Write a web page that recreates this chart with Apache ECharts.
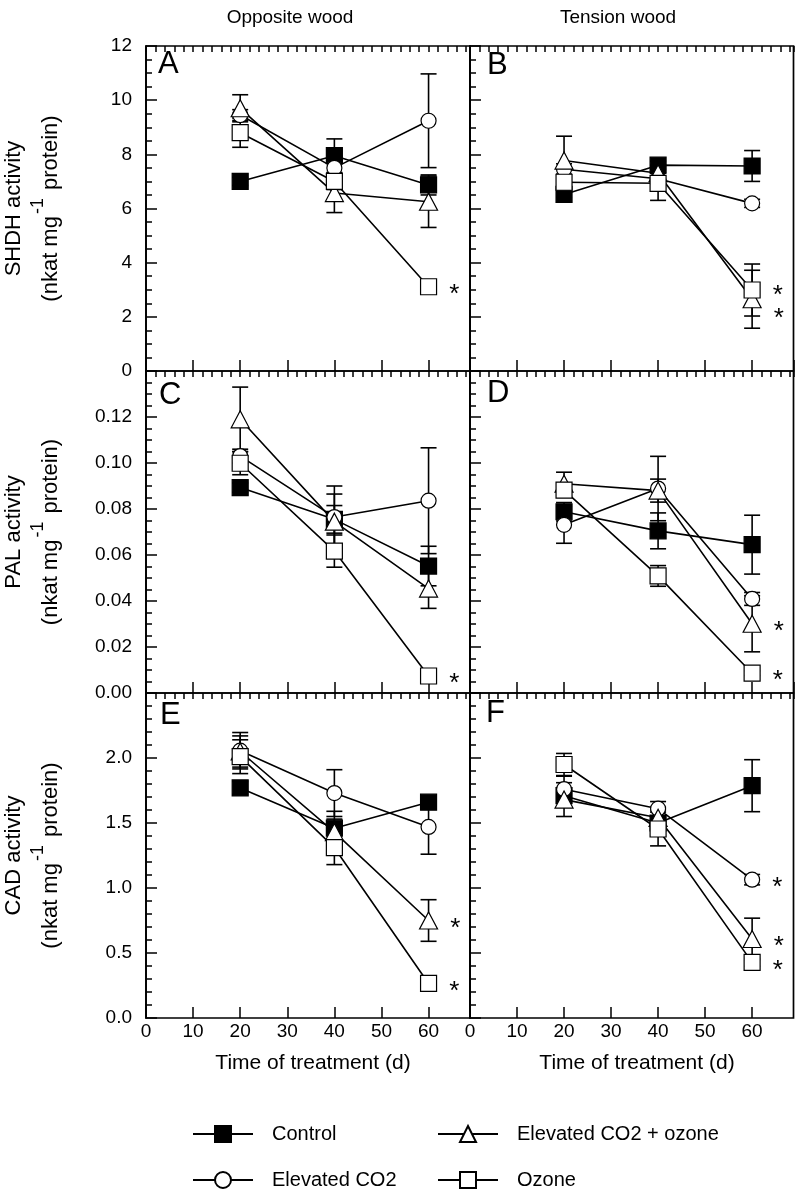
<!DOCTYPE html>
<html>
<head>
<meta charset="utf-8">
<script src="https://cdn.jsdelivr.net/npm/echarts@6/dist/echarts.min.js"></script>
<style>html,body{margin:0;padding:0;background:#fff}#c{width:797px;height:1190px}</style>
</head>
<body>
<div id="c"></div>
<script>
// ---------------- data ----------------
const days = [20, 40, 60];
const seriesNames = ['Control', 'Elevated CO2', 'Elevated CO2 + ozone', 'Ozone'];
const xTickLabels = [0, 10, 20, 30, 40, 50, 60];
const columnTitles = ['Opposite wood', 'Tension wood'];
const rowTitles = ['SHDH activity', 'PAL activity', 'CAD activity'];
const panelLetters = ['A', 'B', 'C', 'D', 'E', 'F'];

// Panel A: SHDH, opposite wood
const shdhOppMean = [[7.0, 7.95, 6.87], [9.45, 7.5, 9.24], [9.7, 6.57, 6.25], [8.8, 7.0, 3.11]];
const shdhOppErr  = [[0.15, 0.62, 0.37], [0.2, 0.3, 1.73], [0.5, 0.72, 0.95], [0.54, 0.3, 0.1]];
const shdhOppSig  = [0, 0, 0, 1];
// Panel B: SHDH, tension wood
const shdhTenMean = [[6.52, 7.6, 7.57], [7.45, 7.1, 6.19], [7.77, 7.3, 2.65], [6.97, 6.93, 2.99]];
const shdhTenErr  = [[0.1, 0.15, 0.57], [0.2, 0.2, 0.15], [0.9, 0.3, 1.07], [0.3, 0.63, 0.96]];
const shdhTenSig  = [0, 0, 1, 1];
// Panel C: PAL, opposite wood
const palOppMean = [[0.0893, 0.0755, 0.0552], [0.103, 0.0765, 0.0836], [0.119, 0.0745, 0.0454], [0.0999, 0.0617, 0.0074]];
const palOppErr  = [[0.002, 0.006, 0.0086], [0.003, 0.0135, 0.023], [0.014, 0.012, 0.0086], [0.005, 0.007, 0.001]];
const palOppSig  = [0, 0, 0, 1];
// Panel D: PAL, tension wood
const palTenMean = [[0.0788, 0.0705, 0.0645], [0.0731, 0.0889, 0.0409], [0.091, 0.088, 0.0301], [0.0882, 0.0509, 0.0086]];
const palTenErr  = [[0.004, 0.0078, 0.0128], [0.008, 0.014, 0.0028], [0.005, 0.005, 0.0122], [0.003, 0.0045, 0.001]];
const palTenSig  = [0, 0, 1, 1];
// Panel E: CAD, opposite wood
const cadOppMean = [[1.77, 1.46, 1.66], [2.056, 1.73, 1.47], [2.05, 1.43, 0.75], [2.01, 1.31, 0.266]];
const cadOppErr  = [[0.05, 0.13, 0.05], [0.14, 0.18, 0.21], [0.12, 0.1, 0.16], [0.13, 0.13, 0.02]];
const cadOppSig  = [0, 0, 1, 1];
// Panel F: CAD, tension wood
const cadTenMean = [[1.71, 1.50, 1.787], [1.76, 1.61, 1.064], [1.68, 1.54, 0.608], [1.95, 1.454, 0.428]];
const cadTenErr  = [[0.05, 0.1, 0.2], [0.1, 0.055, 0.04], [0.13, 0.08, 0.16], [0.085, 0.13, 0.03]];
const cadTenSig  = [0, 1, 1, 1];

// y-axis scales per row
const yMin = [0, 0, 0];
const yMax = [12, 0.14, 2.5];
const yInterval = [2, 0.02, 0.5];
const yMinorSplit = [4, 4, 5];
const yDecimals = [0, 2, 1];

// ---------------- layout / style ----------------
const FONT = '"Liberation Sans", Arial, Helvetica, sans-serif';
const colLeft = [146, 470];
const colWidth = [324, 323.5];
const rowTop = [46, 371, 693];
const rowHeight = [325, 322, 325];
const X_MAX = 68.8;
const symbolDefs = [
  { symbol: 'rect', size: 16, fill: '#000' },
  { symbol: 'circle', size: 15, fill: '#fff' },
  { symbol: 'triangle', size: [18, 17], fill: '#fff' },
  { symbol: 'rect', size: 16, fill: '#fff' }
];
// extra vertical nudge (px) of asterisks, [panel][series]
const asteriskNudge = [[0, 0, 0, 0], [0, 0, 12, -2], [0, 0, 0, 0], [0, 0, 0, 0], [0, 0, 0, 0], [0, 0, 0, 0]];

const panelData = [
  { mean: shdhOppMean, err: shdhOppErr, sig: shdhOppSig },
  { mean: shdhTenMean, err: shdhTenErr, sig: shdhTenSig },
  { mean: palOppMean, err: palOppErr, sig: palOppSig },
  { mean: palTenMean, err: palTenErr, sig: palTenSig },
  { mean: cadOppMean, err: cadOppErr, sig: cadOppSig },
  { mean: cadTenMean, err: cadTenErr, sig: cadTenSig }
];

const grids = [], xAxes = [], yAxes = [], series = [];
const lineSeries = [], errSeries = [], markSeries = [];

panelData.forEach((pd, p) => {
  const row = Math.floor(p / 2), col = p % 2;
  grids.push({
    left: colLeft[col], top: rowTop[row], width: colWidth[col], height: rowHeight[row],
    show: true, borderColor: '#000', borderWidth: 1.7, backgroundColor: 'transparent'
  });
  const tickStyle = { color: '#000', width: 1.5 };
  xAxes.push({
    type: 'value', gridIndex: p, min: 0, max: X_MAX, interval: 10,
    axisLine: { show: false },
    axisTick: { show: true, inside: true, length: 11, lineStyle: tickStyle },
    axisLabel: {
      show: row === 2, color: '#000', fontSize: 19, fontFamily: FONT, margin: 4,
      showMaxLabel: false,
      formatter: v => (xTickLabels.indexOf(Math.round(v * 1000) / 1000) >= 0 ? String(v) : '')
    },
    splitLine: { show: false }
  });
  xAxes.push({
    type: 'value', gridIndex: p, min: 0, max: X_MAX, interval: 2,
    axisLine: { show: false },
    axisTick: { show: true, inside: true, length: 6, lineStyle: tickStyle },
    axisLabel: { show: false },
    splitLine: { show: false }
  });
  yAxes.push({
    type: 'value', gridIndex: p, min: yMin[row], max: yMax[row], interval: yInterval[row],
    axisLine: { show: true, lineStyle: { color: '#000', width: 1.7 } },
    axisTick: { show: true, inside: true, length: 11, lineStyle: tickStyle },
    minorTick: { show: true, splitNumber: yMinorSplit[row], length: 6, lineStyle: tickStyle },
    axisLabel: {
      show: col === 0, color: '#000', fontSize: 19, fontFamily: FONT, margin: 14,
      showMaxLabel: row === 0, showMinLabel: true,
      formatter: v => v.toFixed(yDecimals[row])
    },
    splitLine: { show: false }, minorSplitLine: { show: false }
  });

  // error bars
  const errData = [];
  pd.mean.forEach((vals, s) => {
    vals.forEach((v, k) => {
      errData.push([days[k], v - pd.err[s][k], v + pd.err[s][k]]);
    });
  });
  errSeries.push({
    type: 'custom', xAxisIndex: 2 * p, yAxisIndex: p, z: 1, silent: true,
    data: errData, encode: { x: 0, y: [1, 2] },
    renderItem: (params, api) => {
      const x = api.value(0);
      const lo = api.coord([x, api.value(1)]);
      const hi = api.coord([x, api.value(2)]);
      const hw = 8;
      const st = { stroke: '#000', lineWidth: 1.6 };
      return {
        type: 'group', children: [
          { type: 'line', shape: { x1: lo[0], y1: lo[1], x2: hi[0], y2: hi[1] }, style: st },
          { type: 'line', shape: { x1: lo[0] - hw, y1: lo[1], x2: lo[0] + hw, y2: lo[1] }, style: st },
          { type: 'line', shape: { x1: hi[0] - hw, y1: hi[1], x2: hi[0] + hw, y2: hi[1] }, style: st }
        ]
      };
    }
  });

  pd.mean.forEach((vals, s) => {
    const sd = symbolDefs[s];
    const data = vals.map((v, k) => [days[k], v]);
    lineSeries.push({
      type: 'line', name: seriesNames[s], xAxisIndex: 2 * p, yAxisIndex: p, z: 2,
      data: data, showSymbol: false, symbol: sd.symbol, symbolSize: sd.size,
      lineStyle: { color: '#000', width: 1.6 },
      itemStyle: { color: sd.fill, borderColor: '#000', borderWidth: 1.2 },
      silent: true, animation: false, emphasis: { disabled: true }
    });
    markSeries.push({
      type: 'scatter', name: seriesNames[s], xAxisIndex: 2 * p, yAxisIndex: p, z: 3,
      symbol: sd.symbol, symbolSize: sd.size,
      itemStyle: { color: sd.fill, borderColor: '#000', borderWidth: 1.2, opacity: 1 },
      silent: true, animation: false,
      data: data.map((d, k) => {
        const item = { value: d };
        if (k === 2 && pd.sig[s]) {
          item.label = {
            show: true, formatter: '*', position: 'right', distance: 12,
            fontSize: 26, fontFamily: FONT, color: '#000', offset: [0, 8 + asteriskNudge[p][s]]
          };
        }
        return item;
      })
    });
  });
});

series.push(...lineSeries, ...errSeries, ...markSeries);

const legendBase = {
  orient: 'horizontal', itemWidth: 60, itemHeight: 20, padding: 0, selectedMode: false,
  textStyle: { fontSize: 20, fontFamily: FONT, color: '#000', padding: [0, 0, 0, 14] }
};
const legendPos = [[192, 1124], [192, 1170], [437, 1124], [437, 1170]];
const legends = seriesNames.map((n, i) => Object.assign({}, legendBase, {
  data: [n], left: legendPos[i][0], top: legendPos[i][1]
}));

const graphics = [];
// column titles
const colTitleX = [290, 618];
columnTitles.forEach((t, c) => graphics.push({
  type: 'text', x: colTitleX[c], y: 18,
  style: { text: t, fontSize: 19, fontFamily: FONT, fill: '#000', align: 'center', verticalAlign: 'middle' }
}));
// x axis titles
const xTitleX = [313, 637];
xTitleX.forEach(x => graphics.push({
  type: 'text', x: x, y: 1063,
  style: { text: 'Time of treatment (d)', fontSize: 21, fontFamily: FONT, fill: '#000', align: 'center', verticalAlign: 'middle' }
}));
// y titles
rowTitles.forEach((t, r) => {
  const cy = rowTop[r] + rowHeight[r] / 2;
  graphics.push({
    type: 'text', x: 14, y: cy, rotation: Math.PI / 2,
    style: { text: t, fontSize: 22, fontFamily: FONT, fill: '#000', align: 'center', verticalAlign: 'middle' }
  });
  graphics.push({
    type: 'text', x: 51, y: cy, rotation: Math.PI / 2,
    style: {
      text: '{a|(nkat mg}{s|-1}{a| protein)}', align: 'center', verticalAlign: 'middle',
      rich: {
        a: { fontSize: 22, fontFamily: FONT, fill: '#000' },
        s: { fontSize: 18, fontFamily: FONT, fill: '#000', padding: [0, 2, 26, 2] }
      }
    }
  });
});
// panel letters
const letterPos = [[158, 49], [487, 50], [159, 380], [487, 378], [160, 700], [486, 698]];
panelLetters.forEach((l, i) => graphics.push({
  type: 'text', x: letterPos[i][0], y: letterPos[i][1],
  style: { text: l, fontSize: 31, fontFamily: FONT, fill: '#000', align: 'left', verticalAlign: 'top' }
}));

const chart = echarts.init(document.getElementById('c'), null, { renderer: 'canvas' });
chart.setOption({
  animation: false,
  backgroundColor: '#fff',
  textStyle: { fontFamily: FONT },
  grid: grids, xAxis: xAxes, yAxis: yAxes,
  legend: legends,
  graphic: graphics,
  series: series
});
</script>
</body>
</html>
